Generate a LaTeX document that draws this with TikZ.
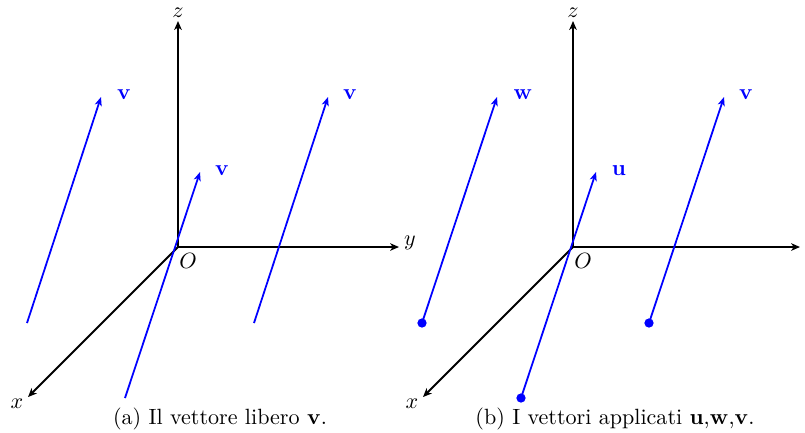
\documentclass[tikz,border=0pt]{standalone}
\usetikzlibrary{arrows.meta}
\begin{document}
\begin{tikzpicture}[x=0.453pt,y=-0.453pt,
  axis/.style={line width=0.9pt,-{Stealth[length=4pt,width=3.4pt,inset=1.1pt]}},
  vec/.style={line width=0.8pt,blue,-{Stealth[length=4pt,width=3.2pt,inset=1.1pt]}},
  vlab/.style={blue,inner sep=0pt},
  dot/.style={circle,fill=blue,inner sep=0pt,minimum size=4.2pt},
  lab/.style={inner sep=0pt}]
\useasboundingbox (0,0) rectangle (805,432);
% ---------- panel (a)
\coordinate (Oa) at (178,247);
\coordinate (za) at (178,21);
\coordinate (ya) at (399,247);
\coordinate (xa) at (28,397);
\draw[axis] (Oa) -- (za);
\draw[axis] (Oa) -- (ya);
\draw[axis] (Oa) -- (xa);
\node[lab] (zla) at (178,13) {$z$};
\node[lab] (yla) at (410,243) {$y$};
\node[lab] (xla) at (17,404) {$x$};
\node[lab] (Ola) at (188,261) {$O$};
\coordinate (a1s) at (27,323);  \coordinate (a1e) at (101,97);
\coordinate (a2s) at (125,398); \coordinate (a2e) at (200,172);
\coordinate (a3s) at (254,323); \coordinate (a3e) at (328,97);
\draw[vec] (a1s) -- (a1e);
\draw[vec] (a2s) -- (a2e);
\draw[vec] (a3s) -- (a3e);
\node[vlab] (va1) at (124,95) {$\mathbf{v}$};
\node[vlab] (va2) at (222,171) {$\mathbf{v}$};
\node[vlab] (va3) at (350,95) {$\mathbf{v}$};
\node[lab] (capa) at (220,419) {(a) Il vettore libero $\mathbf{v}$.};
% ---------- panel (b)
\coordinate (Ob) at (573,247);
\coordinate (zb) at (573,21);
\coordinate (yb) at (800,247);
\coordinate (xb) at (423,397);
\draw[axis] (Ob) -- (zb);
\draw[axis] (Ob) -- (yb);
\draw[axis] (Ob) -- (xb);
\node[lab] (zlb) at (573,13) {$z$};
\node[lab] (ylb) at (811,243) {$y$};
\node[lab] (xlb) at (412,404) {$x$};
\node[lab] (Olb) at (583,261) {$O$};
\node[dot] (b1s) at (422,323) {}; \coordinate (b1e) at (497,97);
\node[dot] (b2s) at (521,398) {}; \coordinate (b2e) at (596,172);
\node[dot] (b3s) at (649,323) {}; \coordinate (b3e) at (724,97);
\draw[vec] (b1s.center) -- (b1e);
\draw[vec] (b2s.center) -- (b2e);
\draw[vec] (b3s.center) -- (b3e);
\node[vlab] (wb) at (523,95) {$\mathbf{w}$};
\node[vlab] (ub) at (619,171) {$\mathbf{u}$};
\node[vlab] (vb) at (746,95) {$\mathbf{v}$};
\node[lab] (capb) at (615,419) {(b) I vettori applicati $\mathbf{u}$,$\mathbf{w}$,$\mathbf{v}$.};
\end{tikzpicture}
\end{document}
